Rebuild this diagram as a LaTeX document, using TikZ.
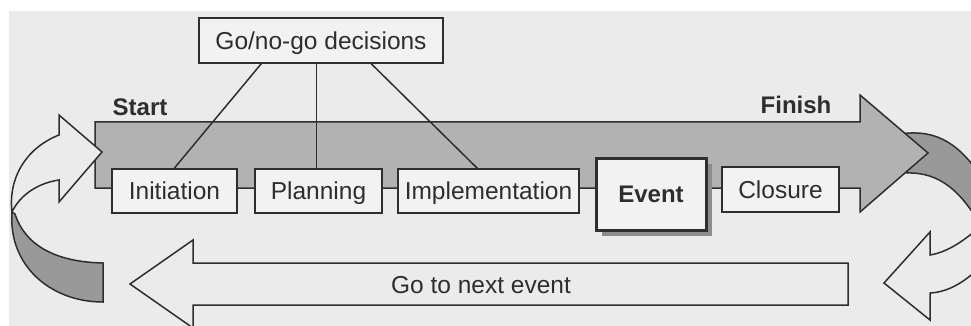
\documentclass[tikz,border=0pt]{standalone}
\usepackage{fontspec}
\setmainfont{Liberation Sans}
\usetikzlibrary{calc,shadows}
\definecolor{bgc}{gray}{0.92}
\definecolor{arrowc}{gray}{0.70}
\definecolor{ribbon}{gray}{0.60}
\definecolor{boxc}{gray}{0.95}
\definecolor{inkc}{gray}{0.18}
\definecolor{shadowc}{gray}{0.55}
\tikzset{
  ln/.style={draw=inkc, line width=1.5pt, line join=miter},
  lbl/.style={text=inkc, font=\fontsize{24.5}{28}\selectfont, text height=17.5pt, text depth=0pt, inner sep=0pt},
  boldlbl/.style={lbl, font=\fontsize{24}{28}\selectfont\bfseries},
  stagebox/.style={lbl, ln, fill=boxc, inner sep=0pt},
}
\begin{document}
\begin{tikzpicture}[x=1pt,y=-1pt]
\useasboundingbox (0,0) rectangle (971,326);
\clip (0,0) rectangle (971,326);
\fill[white] (0,0) rectangle (971,326);
\fill[bgc] (9,11) rectangle (971,326);

% right ribbon, back (grey) face
\draw[ln, fill=ribbon] (900,134) .. controls (940,128) and (962,148) .. (982,178)
   -- (982,228) .. controls (962,192) and (940,172) .. (907,173) -- cycle;

% main arrow
\draw[ln, fill=arrowc] (95,122) -- (860,122) -- (860,95) -- (928,153) -- (860,212)
   -- (860,188) -- (95,188) -- cycle;

% right ribbon, front face with arrowhead
\draw[ln, fill=bgc] (884,283) -- (930,232) -- (930,255)
   .. controls (948,252) and (966,240) .. (985,222) -- (985,262)
   .. controls (968,280) and (950,292) .. (930,293) -- (930,320) -- cycle;

% left ribbon, back (grey) face
\draw[ln, fill=ribbon] (12,212) .. controls (8,265) and (50,302) .. (103,302)
   -- (103,263) .. controls (55,262) and (25,245) .. (15,214) -- cycle;
% left ribbon, front face with arrowhead
\draw[ln, fill=bgc] (102,152) -- (59,115) -- (59,135)
   .. controls (26,148) and (8,178) .. (12,212)
   .. controls (20,195) and (38,183) .. (59,180) -- (59,202) -- cycle;

% go to next event arrow
\draw[ln, fill=bgc] (848,263) -- (193,263) -- (193,240) -- (130,284) -- (193,328)
   -- (193,305) -- (848,305) -- cycle;
\node[lbl] (next) at (481,284.5) {Go to next event};

% labels
\node[boldlbl] (start) at (140,106.5) {Start};
\node[boldlbl] (finish) at (796,105) {Finish};

% boxes
\node[stagebox, minimum width=244pt, minimum height=45pt] (go) at (321,40.5) {Go/no-go decisions};
\node[stagebox, minimum width=125pt, minimum height=44pt] (init) at (174.5,191) {Initiation};
\node[stagebox, minimum width=127pt, minimum height=44pt] (plan) at (318.5,191) {Planning};
\node[stagebox, minimum width=181pt, minimum height=44pt] (impl) at (488.5,191) {Implementation};
\node[stagebox, boldlbl, line width=3pt, minimum width=110pt, minimum height=72pt,
  drop shadow={shadow xshift=6pt, shadow yshift=-6pt, fill=shadowc, opacity=1}] (event) at (651,194) {Event};
\node[stagebox, minimum width=117pt, minimum height=45pt] (closure) at (780.5,189.5) {Closure};

% decision connectors
\draw[ln] ($(go.south west)+(63,0)$) -- ($(init.north west)+(63,0)$);
\draw[ln] ($(go.south west)+(118,0)$) -- ($(plan.north west)+(62,0)$);
\draw[ln] ($(go.south west)+(173,0)$) -- ($(impl.north west)+(80,0)$);
\end{tikzpicture}
\end{document}
